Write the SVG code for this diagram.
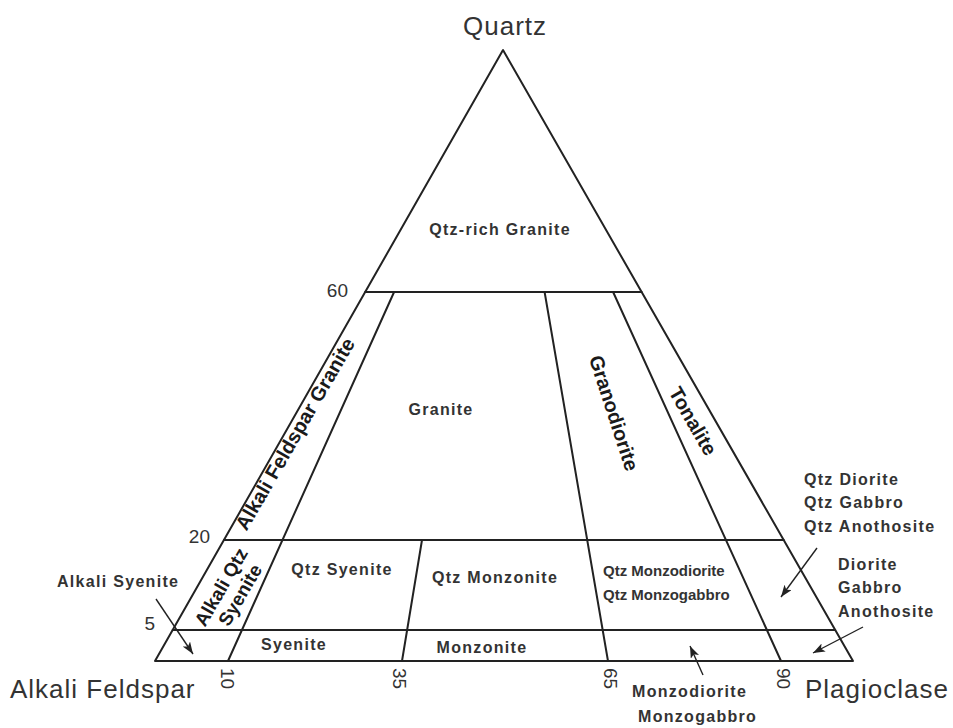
<svg xmlns="http://www.w3.org/2000/svg" width="953" height="728" viewBox="0 0 953 728">
<style>
.ln{stroke:#222;stroke-width:2;fill:none;stroke-linecap:round;stroke-linejoin:round}
.ar{stroke:#222;stroke-width:1.4;fill:none;marker-end:url(#ah)}
.lbl{font-family:"Liberation Sans",Arial,sans-serif;font-weight:bold;font-size:16px;letter-spacing:1.3px;fill:#333}
.sm{font-family:"Liberation Sans",Arial,sans-serif;font-weight:bold;font-size:15px;fill:#333}
.big{font-family:"Liberation Sans",Arial,sans-serif;font-weight:bold;font-size:20px;fill:#1a1a1a}
.num{font-family:"Liberation Sans",Arial,sans-serif;font-size:19px;fill:#333}
.apex{font-family:"Liberation Sans",Arial,sans-serif;font-size:26px;letter-spacing:1px;fill:#333}
</style>
<defs>
<marker id="ah" viewBox="0 0 12 9" refX="12" refY="4.5" markerWidth="12" markerHeight="9" markerUnits="userSpaceOnUse" orient="auto">
<path d="M0,0 L12,4.5 L0,9 L3,4.5 z" fill="#222"/>
</marker>
</defs>
<rect width="953" height="728" fill="#fff"/>
<g id="connectors">
<polygon class="ln" points="503,50 155,661 853,661"/>
<line class="ln" x1="365.2" y1="292" x2="641.6" y2="292"/>
<line class="ln" x1="223.9" y1="540" x2="783.7" y2="540"/>
<line class="ln" x1="172.7" y1="630" x2="835.2" y2="630"/>
<line class="ln" x1="228" y1="661" x2="394.1" y2="292"/>
<line class="ln" x1="402" y1="661" x2="422" y2="540"/>
<line class="ln" x1="608" y1="661" x2="544.6" y2="292"/>
<line class="ln" x1="781" y1="661" x2="613.1" y2="292"/>
<line class="ar" x1="156" y1="599" x2="193" y2="654"/>
<line class="ar" x1="703" y1="675" x2="690" y2="646"/>
<line class="ar" x1="817" y1="548" x2="781" y2="597"/>
<line class="ar" x1="863" y1="627" x2="813" y2="653"/>
</g>
<g id="axes">
<text class="apex" x="463" y="35">Quartz</text>
<text class="apex" x="10" y="698">Alkali Feldspar</text>
<text class="apex" x="805" y="698">Plagioclase</text>
<text class="num" x="348" y="297" text-anchor="end">60</text>
<text class="num" x="210" y="543" text-anchor="end">20</text>
<text class="num" x="155" y="630" text-anchor="end">5</text>
<text class="num" transform="translate(221,668) rotate(90)">10</text>
<text class="num" transform="translate(393,668) rotate(90)">35</text>
<text class="num" transform="translate(604,668) rotate(90)">65</text>
<text class="num" transform="translate(777,668) rotate(90)">90</text>
</g>
<g id="qtz-rich-granite"><text class="lbl" x="500" y="235" text-anchor="middle">Qtz-rich Granite</text></g>
<g id="granite"><text class="lbl" x="441" y="415" text-anchor="middle">Granite</text></g>
<g id="alkali-feldspar-granite"><text class="big" text-anchor="middle" dy="0.35em" transform="translate(295,434) rotate(-60)">Alkali Feldspar Granite</text></g>
<g id="granodiorite"><text class="big" text-anchor="middle" dy="0.35em" transform="translate(614,413) rotate(72)">Granodiorite</text></g>
<g id="tonalite"><text class="big" text-anchor="middle" dy="0.35em" transform="translate(693,421) rotate(60)">Tonalite</text></g>
<g id="alkali-qtz-syenite">
<text class="big" style="font-size:19px" text-anchor="middle" dy="0.35em" transform="translate(221,587) rotate(-60)">Alkali Qtz</text>
<text class="big" style="font-size:19px" text-anchor="middle" dy="0.35em" transform="translate(240,595) rotate(-60)">Syenite</text>
</g>
<g id="qtz-syenite"><text class="lbl" x="342" y="575" text-anchor="middle">Qtz Syenite</text></g>
<g id="qtz-monzonite"><text class="lbl" x="495" y="583" text-anchor="middle">Qtz Monzonite</text></g>
<g id="qtz-monzodiorite">
<text class="sm" x="603" y="576">Qtz Monzodiorite</text>
<text class="sm" x="603" y="600">Qtz Monzogabbro</text>
</g>
<g id="syenite"><text class="lbl" x="294" y="650" text-anchor="middle">Syenite</text></g>
<g id="monzonite"><text class="lbl" x="482" y="653" text-anchor="middle">Monzonite</text></g>
<g id="alkali-syenite"><text class="lbl" x="57" y="587">Alkali Syenite</text></g>
<g id="monzodiorite">
<text class="lbl" x="632" y="697">Monzodiorite</text>
<text class="lbl" x="638" y="722">Monzogabbro</text>
</g>
<g id="qtz-diorite">
<text class="lbl" x="804" y="485">Qtz Diorite</text>
<text class="lbl" x="804" y="508">Qtz Gabbro</text>
<text class="lbl" x="804" y="532">Qtz Anothosite</text>
</g>
<g id="diorite">
<text class="lbl" x="838" y="570">Diorite</text>
<text class="lbl" x="838" y="593">Gabbro</text>
<text class="lbl" x="838" y="617">Anothosite</text>
</g>
</svg>
